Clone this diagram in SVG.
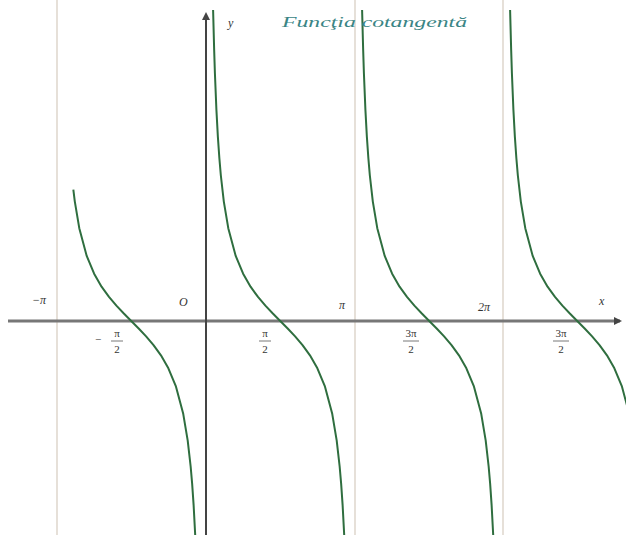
<svg xmlns="http://www.w3.org/2000/svg" width="626" height="535" viewBox="0 0 626 535">
<style>
.asym{stroke:#d6ccbf;stroke-width:1.2;fill:none}
.curve{stroke:#2f6e3f;stroke-width:2;fill:none;stroke-linejoin:round}
.lbl{font-family:"Liberation Serif",serif;font-style:italic;fill:#333;font-size:12px}
.frac{font-family:"Liberation Serif",serif;fill:#333;font-size:11px;text-anchor:middle}
.bar{stroke:#555;stroke-width:0.8}
</style>
<defs>
<marker id="arr" markerWidth="8" markerHeight="8" refX="6" refY="4" orient="auto" markerUnits="userSpaceOnUse">
<path d="M0,0 L8,4 L0,8 z" fill="#444"/>
</marker>
<polyline id="branch" points="7.1,10 8.17,50.1 8.91,73.2 10.4,109.6 11.88,136.9 13.37,158.3 14.85,175.5 17.82,201.6 22.28,228.2 29.7,255.9 37.13,273.7 44.55,286.7 51.98,296.9 59.4,305.6 66.83,313.5 74.25,321 81.68,328.5 89.1,336.4 96.53,345.1 103.95,355.3 111.38,368.3 118.8,386.1 126.23,413.8 130.68,440.4 133.65,466.5 135.14,483.7 136.62,505.1 138.2,535"/>
</defs>
<rect width="626" height="535" fill="#ffffff"/>
<g id="asymptotes">
<line class="asym" x1="57" y1="0" x2="57" y2="535"/>
<line class="asym" x1="355" y1="0" x2="355" y2="535"/>
<line class="asym" x1="503" y1="0" x2="503" y2="535"/>
</g>
<g id="axes">
<line x1="8" y1="321" x2="620" y2="321" stroke="#777" stroke-width="3" marker-end="url(#arr)"/>
<line x1="206" y1="535" x2="206" y2="14" stroke="#444" stroke-width="2" marker-end="url(#arr)"/>
</g>
<g id="curves">
<polyline class="curve" transform="translate(57,0)" points="16.34,189.6 17.82,201.6 22.28,228.2 29.7,255.9 37.13,273.7 44.55,286.7 51.98,296.9 59.4,305.6 66.83,313.5 74.25,321 81.68,328.5 89.1,336.4 96.53,345.1 103.95,355.3 111.38,368.3 118.8,386.1 126.23,413.8 130.68,440.4 133.65,466.5 135.14,483.7 136.62,505.1 138.2,535"/>
<use href="#branch" class="curve" transform="translate(206,0)"/>
<use href="#branch" class="curve" transform="translate(355,0)"/>
<use href="#branch" class="curve" transform="translate(503,0)"/>
</g>
<g id="labels">
<text class="lbl" x="228" y="27" font-size="12">y</text>
<text x="282" y="27" font-family="'Liberation Serif',serif" font-style="italic" font-size="14" fill="#3a8585" textLength="185" lengthAdjust="spacingAndGlyphs">Funcţia cotangentă</text>
<text class="lbl" x="179" y="306" font-size="14">O</text>
<text class="lbl" x="32" y="304" font-size="11">−π</text>
<text class="lbl" x="339" y="309" font-size="11">π</text>
<text class="lbl" x="478" y="311" font-size="11">2π</text>
<text class="lbl" x="599" y="305" font-size="12">x</text>
</g>
<g id="ticks">
<text class="frac" x="98" y="343">−</text>
<text class="frac" x="117" y="337">π</text>
<line class="bar" x1="111" y1="341" x2="123" y2="341"/>
<text class="frac" x="117" y="353">2</text>
<text class="frac" x="265" y="337">π</text>
<line class="bar" x1="259" y1="341" x2="271" y2="341"/>
<text class="frac" x="265" y="353">2</text>
<text class="frac" x="411" y="337">3π</text>
<line class="bar" x1="403" y1="341" x2="419" y2="341"/>
<text class="frac" x="411" y="353">2</text>
<text class="frac" x="561" y="337">3π</text>
<line class="bar" x1="553" y1="341" x2="569" y2="341"/>
<text class="frac" x="561" y="353">2</text>
</g>
</svg>
